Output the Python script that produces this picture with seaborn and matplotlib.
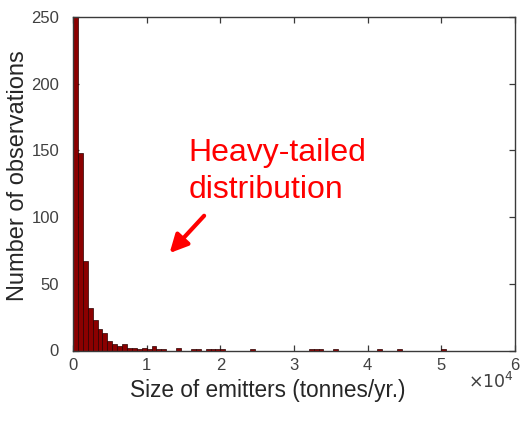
import numpy as np
import pandas as pd
import matplotlib
matplotlib.use("Agg")
import matplotlib.pyplot as plt
import seaborn as sns

# ---- data ----
bin_width = 10000 / 15          # tonnes/yr per bin
counts = [250, 148, 67, 32, 23, 16, 13, 7, 5, 3,
          5, 2, 2, 1, 2, 1, 3, 1, 1, 0,
          0, 2, 0, 0, 1, 1, 0, 1, 1, 1,
          1, 0, 0, 0, 0, 0, 1, 0, 0, 0,
          0, 0, 0, 0, 0, 0, 0, 0, 1, 1,
          1, 0, 0, 1, 0, 0, 0, 0, 0, 0,
          0, 0, 1, 0, 0, 0, 1, 0, 0, 0,
          0, 0, 0, 0, 0, 1, 0, 0, 0, 0,
          0, 0, 0, 0, 0, 0, 0, 0, 0, 0]
x_ticks = [0, 10000, 20000, 30000, 40000, 50000, 60000]
x_tick_labels = ["0", "1", "2", "3", "4", "5", "6"]
y_ticks = [0, 50, 100, 150, 200, 250]

centers = (np.arange(len(counts)) + 0.5) * bin_width
df = pd.DataFrame({"size": centers, "count": counts})

sns.set_theme(style="ticks")
plt.rcParams["font.family"] = ["Liberation Sans", "DejaVu Sans"]

fig = plt.figure(figsize=(5.21, 4.21), dpi=100)
ax = fig.add_axes([73 / 521, 1 - 350.5 / 421, (515 - 73) / 521, (350.5 - 17) / 421])

sns.histplot(data=df, x="size", weights="count", binwidth=bin_width,
             binrange=(0, len(counts) * bin_width), ax=ax,
             color="#8b0000", edgecolor="#2a0000", linewidth=0.5, alpha=1.0)

ax.set_xlim(0, 60000)
ax.set_ylim(0, 250)
ax.set_xticks(x_ticks)
ax.set_xticklabels(x_tick_labels)
ax.set_yticks(y_ticks)
ax.tick_params(direction="in", length=4, width=0.9, color="#3a3a3a",
               labelcolor="#404040", labelsize=12, top=True, right=True,
               bottom=True, left=True)
ax.tick_params(axis="y", pad=10)
ax.tick_params(axis="x", pad=5.5)
for s in ax.spines.values():
    s.set_visible(True)
    s.set_color("#3a3a3a")
    s.set_linewidth(1.0)

ax.set_xlabel("Size of emitters (tonnes/yr.)", fontsize=16.3, color="#262626",
              va="center")
ax.xaxis.set_label_coords((267.5 - 73) / 442, (350.5 - 390) / 333.5)
ax.set_ylabel("Number of observations", fontsize=17, color="#262626", va="center")
ax.yaxis.set_label_coords((18 - 73) / 442, (350.5 - 175.5) / 333.5)

fig.text(468 / 521, 1 - 371 / 421, r"$\times10^{4}$", fontsize=12.5, color="#404040",
         ha="left", va="top")

ax.text(15676, 142.2, "Heavy-tailed", color="#ff0000", fontsize=23,
        ha="left", va="baseline")
ax.text(15676, 114.6, "distribution", color="#ff0000", fontsize=23,
        ha="left", va="baseline")
ax.annotate("", xy=(13108, 73), xytext=(17800, 101),
            arrowprops=dict(arrowstyle="-|>,head_length=0.9,head_width=0.45",
                            color="#ff0000", lw=3, shrinkA=0, shrinkB=0))

fig.savefig("out.png", dpi=100, facecolor="white")
